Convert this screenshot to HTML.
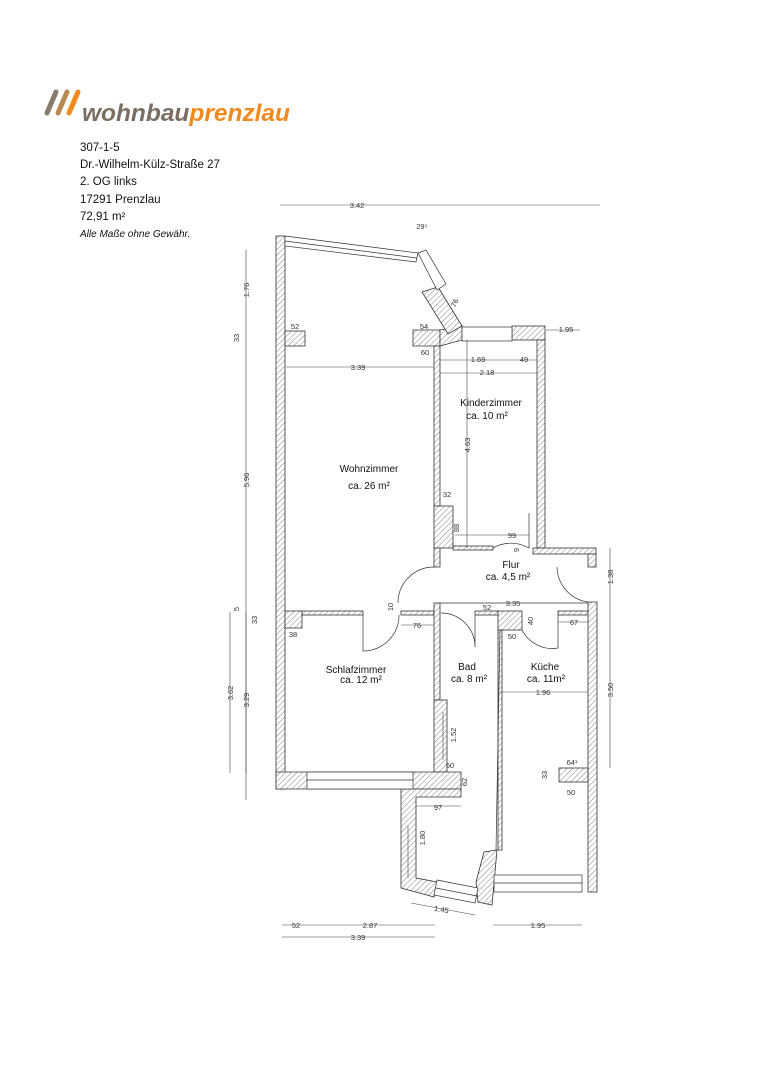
<!DOCTYPE html>
<html><head><meta charset="utf-8"><style>
html,body{margin:0;padding:0;background:#fff;}
body{width:763px;height:1080px;position:relative;overflow:hidden;font-family:"Liberation Sans",sans-serif;}
.info{position:absolute;left:80px;top:140px;font-size:11.5px;line-height:17.2px;color:#111;}
svg{position:absolute;left:0;top:0;}
</style></head><body>
<svg width="763" height="1080" viewBox="0 0 763 1080" font-family="Liberation Sans, sans-serif">
<defs>
<pattern id="h" width="4" height="4" patternUnits="userSpaceOnUse" patternTransform="rotate(45)">
<rect width="4" height="4" fill="#fff"/><line x1="0" y1="0" x2="0" y2="4" stroke="#666" stroke-width="0.8"/>
</pattern>
</defs>
<!-- logo -->
<g stroke-linecap="round" stroke-width="5">
<line x1="47" y1="113" x2="56" y2="92" stroke="#8a7c6c"/>
<line x1="58" y1="113" x2="67" y2="92" stroke="#b88a50"/>
<line x1="69" y1="113" x2="78" y2="92" stroke="#f08a1c"/>
<text x="82" y="121" font-size="24" font-weight="bold" font-style="italic" fill="#7a6e62" stroke="none" textLength="208" lengthAdjust="spacingAndGlyphs">wohnbau<tspan fill="#f08a1c">prenzlau</tspan></text>
</g>
<g fill="url(#h)" stroke="#333" stroke-width="0.8">
<rect x="276" y="236" width="9" height="553"/>
<rect x="285" y="331" width="20" height="15"/>
<polygon points="413,330 440,330 440,346 413,346"/>
<polygon points="440,330 462,326 462,340 440,346"/>
<polygon points="422,292 438,287 462,326 448,334"/>
<rect x="512" y="326" width="33" height="14"/>
<rect x="537" y="340" width="8" height="208"/>
<rect x="434" y="346" width="6" height="160"/>
<rect x="434" y="506" width="19" height="42"/>
<rect x="434" y="548" width="6" height="19"/>
<rect x="453" y="546" width="40" height="4"/>
<rect x="533" y="548" width="63" height="6"/>
<rect x="588" y="554" width="8" height="13"/>
<rect x="285" y="611" width="17" height="17"/>
<rect x="302" y="611" width="61" height="4"/>
<rect x="401" y="611" width="33" height="4"/>
<rect x="434" y="603" width="6" height="97"/>
<rect x="434" y="700" width="13" height="72"/>
<polygon points="276,772 461,772 461,789 276,789"/>
<polygon points="401,789 461,789 461,797 416,797 416,878 437,882 434,897 401,888"/>
<polygon points="476,882 484,852 497,850 492,905 478,902"/>
<rect x="475" y="611" width="23" height="4"/>
<rect x="498" y="611" width="24" height="19"/>
<rect x="498" y="630" width="4" height="220"/>
<rect x="558" y="611" width="30" height="4"/>
<rect x="588" y="602" width="9" height="290"/>
<rect x="559" y="768" width="29" height="14"/>
</g>
<g fill="#fff" stroke="#333" stroke-width="0.7">
<polygon points="285,236 418,253 416,262 285,246"/>
<line x1="285" y1="241" x2="417" y2="258"/>
<polygon points="418,253 426,250 446,284 437,290"/>
<rect x="462" y="327" width="50" height="14"/>
<rect x="307" y="772" width="106" height="17"/>
<line x1="307" y1="780" x2="413" y2="780"/>
<rect x="494" y="875" width="88" height="17"/>
<line x1="494" y1="883" x2="582" y2="883"/>
<polygon points="437,880 478,888 475,903 434,895"/>
<line x1="436" y1="888" x2="477" y2="896"/>
</g>
<g stroke="#333" stroke-width="0.7" fill="none">
<line x1="440" y1="603" x2="588" y2="603"/>
<line x1="500" y1="630" x2="496" y2="850"/>
<path d="M434,567 A36,36 0 0 0 398,603"/>
<path d="M363,615 L363,651 A36,36 0 0 0 399,615"/>
<path d="M475,615 L475,647 A34,34 0 0 0 441,613"/>
<path d="M529,513 L529,548 A36,36 0 0 0 493,548"/>
<path d="M558,615 L558,648 A34,34 0 0 1 522,630"/>
<path d="M557,567 A36,36 0 0 0 588,602"/>
</g>
<g stroke="#444" stroke-width="0.6" fill="none">
<line x1="280" y1="205" x2="600" y2="205"/>
<line x1="246" y1="250" x2="246" y2="800"/>
<line x1="230" y1="612" x2="230" y2="773"/>
<line x1="246" y1="612" x2="246" y2="773"/>
<line x1="610" y1="548" x2="610" y2="768"/>
<line x1="282" y1="925" x2="435" y2="925"/>
<line x1="282" y1="937" x2="435" y2="937"/>
<line x1="493" y1="925" x2="582" y2="925"/>
<line x1="286" y1="367" x2="434" y2="367"/>
<line x1="440" y1="360" x2="537" y2="360"/>
<line x1="440" y1="373" x2="537" y2="373"/>
<line x1="467" y1="340" x2="467" y2="548"/>
<line x1="546" y1="330" x2="580" y2="330"/>
<line x1="411" y1="903" x2="475" y2="915"/>
<line x1="500" y1="692" x2="588" y2="692"/>
<line x1="443" y1="712" x2="443" y2="760"/>
<line x1="408" y1="826" x2="408" y2="878"/>
<line x1="416" y1="806" x2="461" y2="806"/>
<line x1="401" y1="625" x2="434" y2="625"/>
<line x1="455" y1="535" x2="529" y2="535"/>
<line x1="558" y1="622" x2="588" y2="622"/>
</g>
<g font-size="7.5" fill="#333" text-anchor="middle">
<text x="357" y="208">3.42</text>
<text x="422" y="229">29⁵</text>
<text x="295" y="329">52</text>
<text x="424" y="329">54</text>
<text x="566" y="332">1.95</text>
<text x="425" y="355">60</text>
<text x="478" y="362">1.69</text>
<text x="524" y="362">49</text>
<text x="487" y="375">2.18</text>
<text x="358" y="370">3.39</text>
<text x="447" y="497">32</text>
<text x="512" y="538">99</text>
<text x="513" y="606">3.35</text>
<text x="487" y="610">52</text>
<text x="417" y="628">76</text>
<text x="293" y="637">38</text>
<text x="512" y="639">50</text>
<text x="574" y="625">67</text>
<text x="543" y="695">1.96</text>
<text x="572" y="765">64¹</text>
<text x="571" y="795">50</text>
<text x="450" y="768">50</text>
<text x="438" y="810">97</text>
<text x="296" y="928">52</text>
<text x="370" y="928">2.87</text>
<text x="358" y="940">3.39</text>
<text x="538" y="928">1.95</text>
<text x="441" y="912" transform="rotate(10 441 912)">1.45</text>
</g>
<g font-size="7.5" fill="#333" text-anchor="middle">
<text transform="translate(249,290) rotate(-90)">1.76</text>
<text transform="translate(239,338) rotate(-90)">33</text>
<text transform="translate(249,480) rotate(-90)">5.96</text>
<text transform="translate(239,609) rotate(-90)">5</text>
<text transform="translate(257,620) rotate(-90)">33</text>
<text transform="translate(233,693) rotate(-90)">3.62</text>
<text transform="translate(249,700) rotate(-90)">3.29</text>
<text transform="translate(470,445) rotate(-90)">4.63</text>
<text transform="translate(459,528) rotate(-90)">88</text>
<text transform="translate(519,550) rotate(-90)">9</text>
<text transform="translate(393,607) rotate(-90)">10</text>
<text transform="translate(533,621) rotate(-90)">40</text>
<text transform="translate(613,577) rotate(-90)">1.38</text>
<text transform="translate(613,690) rotate(-90)">3.50</text>
<text transform="translate(456,735) rotate(-90)">1.52</text>
<text transform="translate(467,782) rotate(-90)">62</text>
<text transform="translate(547,775) rotate(-90)">33</text>
<text transform="translate(425,838) rotate(-90)">1.80</text>
<text transform="translate(457,304) rotate(-65)">76</text>
</g>
<g font-size="10" fill="#111" text-anchor="middle">
<text x="369" y="472">Wohnzimmer</text><text x="369" y="489">ca. 26 m²</text>
<text x="491" y="406">Kinderzimmer</text><text x="487" y="419">ca. 10 m²</text>
<text x="511" y="568">Flur</text><text x="508" y="580">ca. 4,5 m²</text>
<text x="356" y="673">Schlafzimmer</text><text x="361" y="683">ca. 12 m²</text>
<text x="467" y="670">Bad</text><text x="469" y="682">ca. 8 m²</text>
<text x="545" y="670">Küche</text><text x="546" y="682">ca. 11m²</text>
</g>
</svg>
<div class="info">307-1-5<br>Dr.-Wilhelm-Külz-Straße 27<br>2. OG links<br>17291 Prenzlau<br>72,91 m²<br><i style="font-size:10px">Alle Maße ohne Gewähr.</i></div>
</body></html>
